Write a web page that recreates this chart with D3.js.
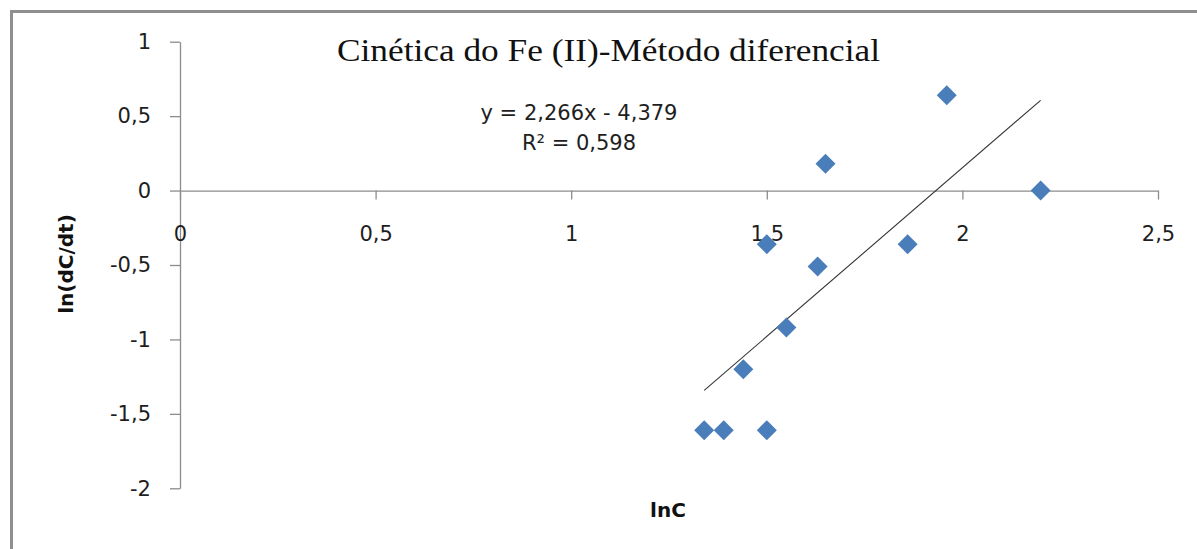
<!DOCTYPE html>
<html>
<head>
<meta charset="utf-8">
<script src="https://cdn.jsdelivr.net/npm/d3@7"></script>
<style>
  html, body { margin: 0; padding: 0; background: #fff; }
  svg { display: block; }
</style>
</head>
<body>
<svg id="chart" width="1197" height="549"></svg>
<script>
// ln C (x) and ln(dC/dt) (y) for each measurement
const lnC    = [1.34, 1.39, 1.50, 1.44, 1.55, 1.50, 1.63, 1.65, 1.86, 1.96, 2.20];
const lnRate = [-1.61, -1.61, -1.61, -1.20, -0.92, -0.36, -0.51, 0.18, -0.36, 0.64, 0.00];

// Linear trendline coefficients, as reported in the equation label
const slope = 2.266;
const intercept = -4.379;
const rSquared = 0.598;

// Axis ticks
const xTicks = [0, 0.5, 1, 1.5, 2, 2.5];
const xTickLabels = ["0", "0,5", "1", "1,5", "2", "2,5"];
const yTicks = [-2, -1.5, -1, -0.5, 0, 0.5, 1];
const yTickLabels = ["-2", "-1,5", "-1", "-0,5", "0", "0,5", "1"];

const titleText = "Cinética do Fe (II)-Método diferencial";
const xTitle = "lnC";
const yTitle = "ln(dC/dt)";

const fmt = v => v.toFixed(3).replace(".", ",");

const svg = d3.select("#chart");
const axisColor = "#8c8c8c";
const textColor = "#1e1e1e";
const sans = "'DejaVu Sans', sans-serif";

// Chart frame
svg.append("rect")
  .attr("x", 11.5).attr("y", 11.5)
  .attr("width", 1250).attr("height", 600)
  .attr("fill", "none")
  .attr("stroke", "#8f8f8f")
  .attr("stroke-width", 3);

const x = d3.scaleLinear().domain([0, 2.5]).range([180, 1158]);
const y = d3.scaleLinear().domain([-2, 1]).range([488.3, 41.7]);

// Y axis
const yAxis = svg.append("g")
  .attr("transform", `translate(${x(0)},0)`)
  .call(d3.axisLeft(y)
    .tickValues(yTicks)
    .tickFormat((d, i) => yTickLabels[i])
    .tickSizeInner(10)
    .tickSizeOuter(0)
    .tickPadding(19));

// X axis, crossing at y = 0, labels set lower
const xAxis = svg.append("g")
  .attr("transform", `translate(0,${y(0)})`)
  .call(d3.axisBottom(x)
    .tickValues(xTicks)
    .tickFormat((d, i) => xTickLabels[i])
    .tickSizeInner(9)
    .tickSizeOuter(0)
    .tickPadding(27));

[xAxis, yAxis].forEach(g => {
  g.select(".domain").attr("stroke", axisColor).attr("stroke-width", 1.3);
  g.selectAll(".tick line").attr("stroke", axisColor).attr("stroke-width", 1.3);
  g.selectAll(".tick text")
    .attr("fill", textColor)
    .style("font-family", sans)
    .style("font-size", "21px");
});

// Trendline across the range of the data
const xExt = d3.extent(lnC);
svg.append("line")
  .attr("x1", x(xExt[0])).attr("y1", y(slope * xExt[0] + intercept))
  .attr("x2", x(xExt[1])).attr("y2", y(slope * xExt[1] + intercept))
  .attr("stroke", "#333")
  .attr("stroke-width", 1.1);

// Diamond markers
const diamond = d3.symbol().type(d3.symbolSquare).size(200);
svg.append("g")
  .selectAll("path")
  .data(lnC.map((v, i) => [v, lnRate[i]]))
  .join("path")
  .attr("d", diamond)
  .attr("transform", d => `translate(${x(d[0])},${y(d[1])}) rotate(45)`)
  .attr("fill", "#4a7ebb");

// Title
svg.append("text")
  .attr("x", 337).attr("y", 61)
  .attr("textLength", 543)
  .attr("lengthAdjust", "spacingAndGlyphs")
  .style("font-family", "'Liberation Serif', 'Times New Roman', serif")
  .style("font-size", "32px")
  .attr("fill", "#111")
  .text(titleText);

// Trendline equation and R²
const eq = svg.append("g")
  .style("font-family", sans)
  .style("font-size", "21px")
  .attr("fill", textColor)
  .attr("text-anchor", "middle");
eq.append("text").attr("x", 579).attr("y", 120)
  .text(`y = ${fmt(slope)}x - ${fmt(-intercept)}`);
eq.append("text").attr("x", 579).attr("y", 150)
  .text(`R² = ${fmt(rSquared)}`);

// Axis titles
svg.append("text")
  .attr("x", 668).attr("y", 517)
  .attr("text-anchor", "middle")
  .style("font-family", sans)
  .style("font-size", "20px")
  .style("font-weight", "bold")
  .attr("fill", "#111")
  .text(xTitle);

svg.append("text")
  .attr("transform", "translate(73,264) rotate(-90)")
  .attr("text-anchor", "middle")
  .style("font-family", sans)
  .style("font-size", "20px")
  .style("font-weight", "bold")
  .attr("fill", "#111")
  .text(yTitle);
</script>
</body>
</html>
